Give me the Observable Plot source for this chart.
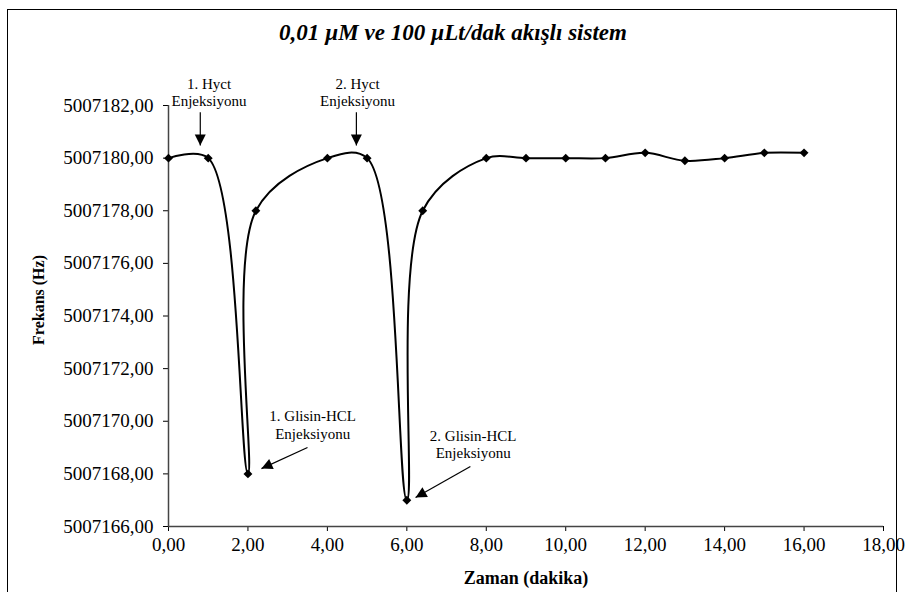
<!DOCTYPE html>
<html>
<head>
<meta charset="utf-8">
<script src="https://cdn.jsdelivr.net/npm/d3@7"></script>
<script src="https://cdn.jsdelivr.net/npm/@observablehq/plot@0.6"></script>
<style>
  html, body { margin: 0; padding: 0; background: #fff; }
  #wrap { position: relative; width: 905px; height: 592px; overflow: hidden; }
  #border { position: absolute; left: 7px; top: 9px; width: 888px; height: 620px; border: 1.5px solid #000; pointer-events: none; }
</style>
</head>
<body>
<div id="wrap"><div id="border"></div></div>
<script>
// ---- data ----
const times = [0, 1, 2, 2.2, 4, 5, 6, 6.4, 8, 9, 10, 11, 12, 13, 14, 15, 16];
const freq = [5007180, 5007180, 5007168, 5007178, 5007180, 5007180, 5007167, 5007178,
              5007180, 5007180, 5007180, 5007180, 5007180.2, 5007179.9, 5007180, 5007180.2, 5007180.2];
const xTicks = [0, 2, 4, 6, 8, 10, 12, 14, 16, 18];
const yTicks = [5007166, 5007168, 5007170, 5007172, 5007174, 5007176, 5007178, 5007180, 5007182];

const titleText = "0,01 µM ve 100 µLt/dak akışlı sistem";
const xLabel = "Zaman (dakika)";
const yLabel = "Frekans (Hz)";

const noteLabels = ["1. Hyct\nEnjeksiyonu", "2. Hyct\nEnjeksiyonu", "1. Glisin-HCL\nEnjeksiyonu", "2. Glisin-HCL\nEnjeksiyonu"];
const noteX = [1.02, 4.76, 3.63, 7.67];
const noteY = [5007182.51, 5007182.51, 5007169.88, 5007169.14];
const arrowX1 = [0.8, 4.73, 3.50, 7.60];
const arrowY1 = [5007181.74, 5007181.74, 5007169.0, 5007168.28];
const arrowX2 = [0.8, 4.73, 2.34, 6.22];
const arrowY2 = [5007180.48, 5007180.48, 5007168.2, 5007167.1];

// ---- layout ----
const W = 905, H = 592;
const mL = 168, mR = 22, mT = 105, mB = 66;
const xDomain = [0, 18], yDomain = [5007166, 5007182];
const serif = "Liberation Serif";

const points = times.map((t, i) => ({t, f: freq[i]}));
const notes = noteLabels.map((s, i) => ({s, x: noteX[i], y: noteY[i]}));
const arrows = arrowX1.map((x1, i) => ({x1, y1: arrowY1[i], x2: arrowX2[i], y2: arrowY2[i]}));

const fmt = d => d.toFixed(2).replace(".", ",");

// pixel-space helper scales only for orienting arrow heads
const px = d3.scaleLinear(xDomain, [mL, W - mR]);
const py = d3.scaleLinear(yDomain, [H - mB, mT]);

function triangle(angle) {
  const L = 11, Wd = 5.5, c = Math.cos(angle), s = Math.sin(angle);
  return {
    draw(ctx) {
      const bx = -L * c, by = -L * s;
      ctx.moveTo(0, 0);
      ctx.lineTo(bx - Wd * s, by + Wd * c);
      ctx.lineTo(bx + Wd * s, by - Wd * c);
      ctx.closePath();
    }
  };
}

const headMarks = arrows.map(a => {
  const ang = Math.atan2(py(a.y2) - py(a.y1), px(a.x2) - px(a.x1));
  return Plot.dot([a], {x: "x2", y: "y2", symbol: triangle(ang), r: 4, fill: "#000", stroke: "none"});
});

const chart = Plot.plot({
  width: W,
  height: H,
  marginLeft: mL,
  marginRight: mR,
  marginTop: mT,
  marginBottom: mB,
  style: {fontFamily: serif, fontSize: "19px", background: "transparent", color: "#000"},
  x: {domain: xDomain, ticks: xTicks, tickFormat: fmt, tickSize: 5, tickPadding: 6, label: null},
  y: {domain: yDomain, ticks: yTicks, tickFormat: fmt, tickSize: 5, tickPadding: 10, label: null},
  marks: [
    Plot.ruleY([yDomain[0]], {stroke: "#444", strokeWidth: 1.5}),
    Plot.ruleX([xDomain[0]], {stroke: "#444", strokeWidth: 1.5}),
    Plot.line(points, {x: "t", y: "f", curve: "catmull-rom", stroke: "#000", strokeWidth: 2}),
    Plot.dot(points, {x: "t", y: "f", symbol: "diamond2", r: 4, fill: "#000", stroke: "none"}),
    Plot.link(arrows, {x1: "x1", y1: "y1", x2: "x2", y2: "y2", stroke: "#000", strokeWidth: 1.2}),
    ...headMarks,
    Plot.text(notes, {x: "x", y: "y", text: "s", fontFamily: serif, fontSize: 15, lineHeight: 1.15, fill: "#000"}),
    Plot.text([titleText], {text: d => d, frameAnchor: "top", lineAnchor: "middle", dy: -73, dx: -73, fontFamily: serif, fontSize: 23, fontWeight: "bold", fontStyle: "italic", fill: "#000"}),
    Plot.text([xLabel], {text: d => d, frameAnchor: "bottom", lineAnchor: "middle", dy: 52, fontFamily: serif, fontSize: 18, fontWeight: "bold", fill: "#000"}),
    Plot.text([yLabel], {text: d => d, frameAnchor: "left", textAnchor: "middle", lineAnchor: "middle", dx: -130, dy: -16, rotate: -90, fontFamily: serif, fontSize: 16, fontWeight: "bold", fill: "#000", style: "letter-spacing:1.5px"})
  ]
});
chart.style.position = "absolute";
chart.style.left = "0";
chart.style.top = "0";
document.getElementById("wrap").appendChild(chart);
</script>
</body>
</html>
